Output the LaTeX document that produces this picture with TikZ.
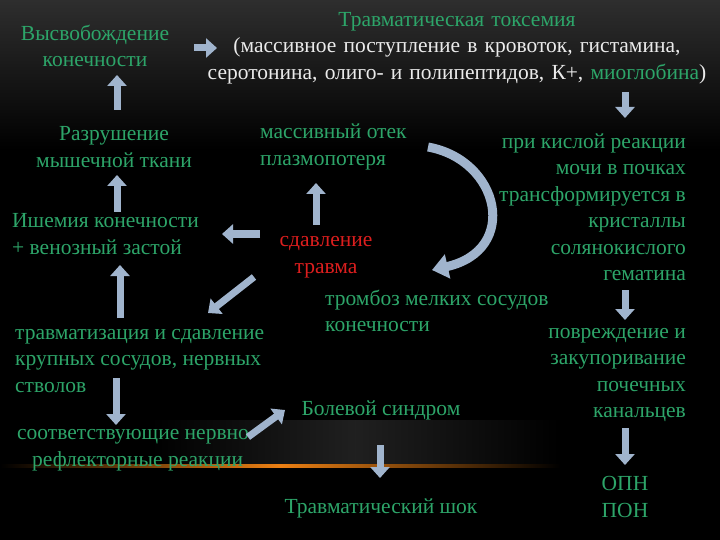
\documentclass[tikz,border=0pt]{standalone}
\usepackage{fontspec}
\setmainfont{Liberation Serif}
\usetikzlibrary{arrows.meta}
\definecolor{tg}{RGB}{45,165,105}
\definecolor{ar}{RGB}{160,180,205}
\definecolor{rd}{RGB}{220,30,30}
\tikzset{
 txt/.style={text=tg,font=\fontsize{21.5}{26.5}\selectfont,inner sep=0pt,align=center},
 blk/.style={draw=ar,line width=7pt,-{Triangle[width=19pt,length=11pt]}},
}
\begin{document}
\begin{tikzpicture}[x=1pt,y=-1pt]
\shade[top color=black!82,bottom color=black,middle color=black] (0,0) rectangle (720,300);
\fill[black] (0,300) rectangle (720,540);
\shade[left color=black,right color=black,middle color=black!75,opacity=0.5] (150,420) rectangle (560,466);
\shade[left color=black,right color=black,middle color=orange!70!brown] (0,464) rectangle (560,467);
\useasboundingbox (0,0) rectangle (720,540);
\node[txt] (vys) at (95,46) {Высвобождение\\конечности};
\node[txt,text width=540pt] (tox) at (457,48) {Травматическая токсемия\\{\color{white!92!black}(массивное поступление в кровоток, гистамина,}\\{\color{white!92!black}серотонина, олиго- и полипептидов, К+, }миоглобина{\color{white!92!black})}};
\node[txt] (raz) at (114,147) {Разрушение\\мышечной ткани};
\node[txt,align=left,anchor=west] (otek) at (260,147) {массивный отек\\плазмопотеря};
\node[txt,align=right,anchor=east] (kisl) at (686,207) {при кислой реакции\\мочи в почках\\трансформируется в\\кристаллы\\солянокислого\\гематина};
\node[txt,align=left,anchor=west] (ish) at (12,234) {Ишемия конечности\\+ венозный застой};
\node[txt,text=rd] (sdav) at (326,257) {сдавление\\травма};
\node[txt,align=left,anchor=west] (trom) at (325,311) {тромбоз мелких сосудов\\конечности};
\node[txt,align=right,anchor=east] (povr) at (686,375) {повреждение и\\закупоривание\\почечных\\канальцев};
\node[txt,align=left,anchor=west] (trv) at (15,361) {травматизация и сдавление\\крупных сосудов, нервных\\стволов};
\node[txt,align=left,anchor=west] (sootv) at (17,450) {соответствующие нервно-\\\hspace*{15pt}рефлекторные реакции};
\node[txt] (bol) at (381,410) {Болевой синдром};
\node[txt] (shok) at (381,508) {Травматический шок};
\node[txt] (opn) at (625,497) {ОПН\\ПОН};
% arrows
\draw[blk] (194,48) -- (217,48);
\draw[blk] (625,92) -- (625,118);
\draw[blk] (117,110) -- (117,75);
\draw[blk] (117,212) -- (117,175);
\draw[blk] (316,225) -- (316,183);
\draw[blk] (260,234) -- (222,234);
\draw[blk] (120,318) -- (120,265);
\draw[blk] (254,277) -- (208,313);
\draw[blk] (625,290) -- (625,320);
\draw[blk] (116,378) -- (116,425);
\draw[blk] (248,437) -- (285,410);
\draw[blk] (380,445) -- (380,478);
\draw[blk] (625,428) -- (625,465);
\coordinate (cs) at (428,147);
\coordinate (ce) at (432,270);
\draw[draw=ar,line width=9pt,-{Triangle[width=24pt,length=16pt]}] (cs) .. controls (500,160) and (520,250) .. (ce);
\end{tikzpicture}
\end{document}
